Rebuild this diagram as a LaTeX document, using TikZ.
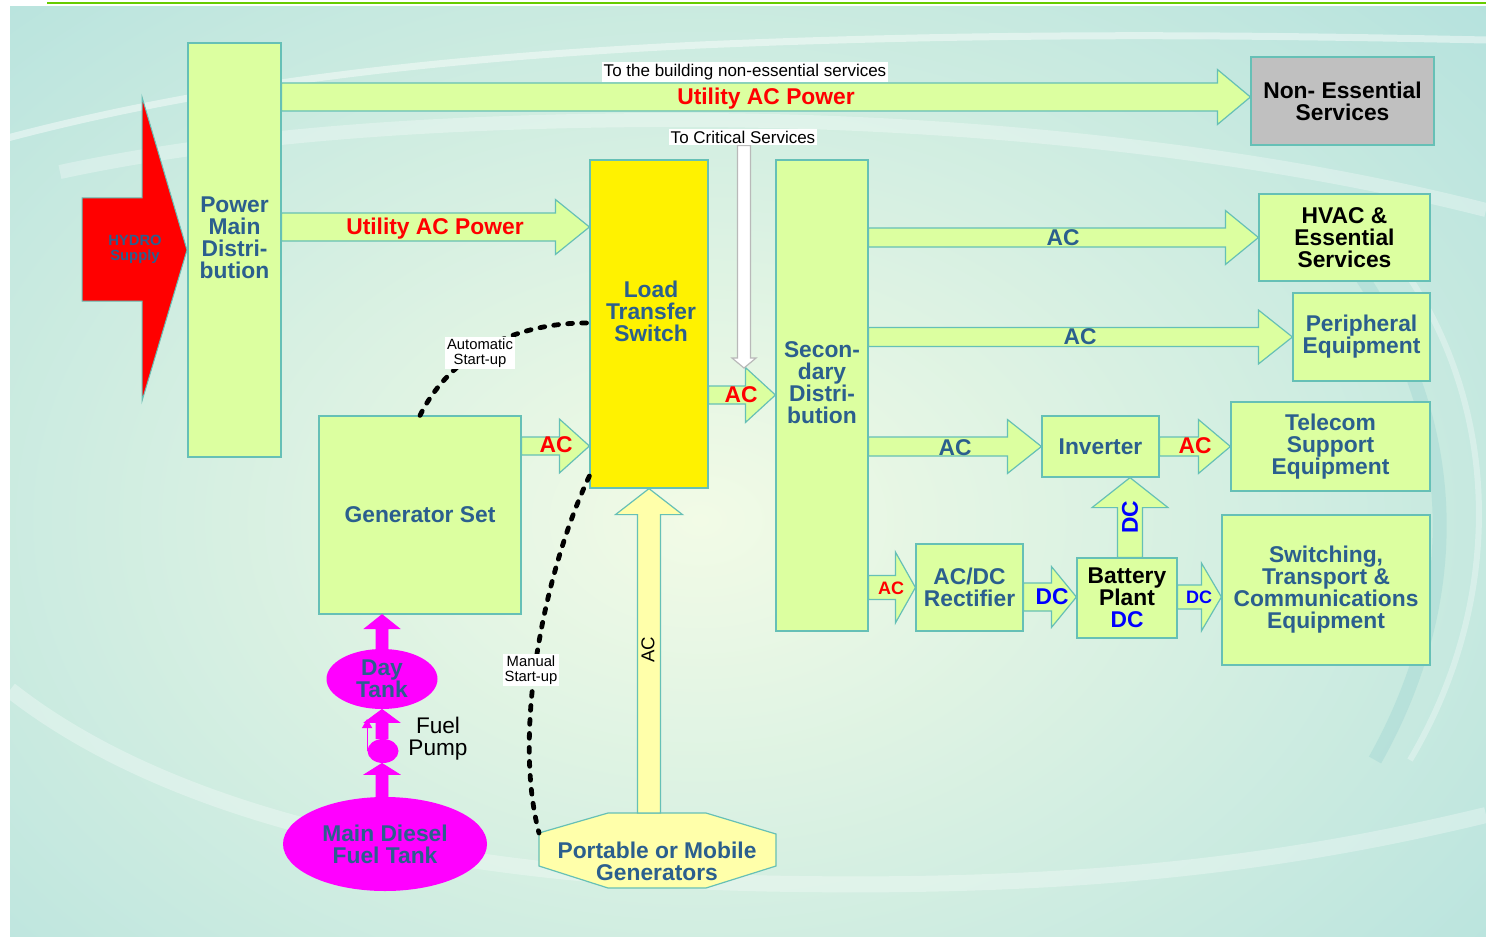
\documentclass[tikz,border=0pt]{standalone}
\usepackage{fontspec}
\setmainfont{Liberation Sans}
\usetikzlibrary{calc,shapes.geometric,arrows.meta}
\definecolor{bgteal}{RGB}{179,225,221}
\definecolor{bglight}{RGB}{242,251,230}
\definecolor{boxfill}{RGB}{220,255,160}
\definecolor{boxline}{RGB}{102,192,182}
\definecolor{txtblue}{RGB}{43,95,142}
\definecolor{myred}{RGB}{255,0,0}
\definecolor{myblue}{RGB}{0,0,255}
\definecolor{mymag}{RGB}{255,0,255}
\definecolor{portfill}{RGB}{255,255,170}
\definecolor{nesgray}{RGB}{192,192,192}
\definecolor{topgreen}{RGB}{102,204,0}
\newcommand{\fmain}{\fontsize{11.4}{11}\selectfont\bfseries}
\newcommand{\fsmall}{\fontsize{9}{9}\selectfont\bfseries}
\newcommand{\flab}{\fontsize{8.5}{9}\selectfont}
\newcommand{\fstart}{\fontsize{7.4}{7.5}\selectfont}
\tikzset{
  blockarrow/.style={fill=boxfill, draw=boxline, line width=0.6pt, line join=miter},
  box/.style={draw=boxline, fill=boxfill, line width=0.6pt, inner sep=0pt, align=center, text=txtblue, font=\fmain},
  txt/.style={inner sep=0pt, align=center, text=txtblue, font=\fmain},
  redlab/.style={inner sep=0pt, text=myred, font=\fmain},
  lab/.style={fill=white, inner sep=1pt, align=center, text=black, font=\flab},
  startlab/.style={fill=white, inner sep=1pt, align=center, text=black, font=\fstart},
  dotline/.style={black, line width=2.4pt, dash pattern=on 2.4pt off 4.6pt, line cap=round},
  tank/.style={ellipse, fill=mymag, inner sep=0pt, align=center, text=txtblue, font=\fmain},
  magarrow/.style={fill=mymag, draw=mymag, line width=0.4pt}
}
\newcommand{\barrow}[6][]{%
  \coordinate (bas) at #2;
  \coordinate (bae) at #3;
  \coordinate (bah) at ($(bae)!#6!(bas)$);
  \draw[blockarrow,#1] ($(bas)!#4!90:(bae)$) -- ($(bah)!#4!90:(bae)$) -- ($(bah)!#5!90:(bae)$) -- (bae)
     -- ($(bah)!#5!-90:(bae)$) -- ($(bah)!#4!-90:(bae)$) -- ($(bas)!#4!-90:(bae)$) -- cycle;
}
\begin{document}
\begin{tikzpicture}[x=0.5pt,y=-0.5pt]
\useasboundingbox (0,0) rectangle (1486,936);
\fill[white] (0,0) rectangle (1486,936);
% background
\begin{scope}
  \clip (10,6.5) rectangle (1486,936);
  \fill[bgteal] (10,6.5) rectangle (1486,936);
  \shade[inner color=bglight, outer color=bgteal] (700,520) ellipse [x radius=560pt, y radius=400pt];
  \draw[white, opacity=0.45, line width=3.5pt] (0,140) .. controls (150,100) and (350,62) .. (700,45) .. controls (1000,32) and (1250,35) .. (1486,40);
  \draw[white, opacity=0.3, line width=7pt] (60,172) .. controls (200,142) and (380,122) .. (650,120) .. controls (950,118) and (1250,150) .. (1486,210);
  \draw[white, opacity=0.3, line width=3pt] (1390,250) .. controls (1505,400) and (1505,600) .. (1410,760);
  \draw[bgteal!85!teal, opacity=0.35, line width=7pt] (1350,260) .. controls (1465,420) and (1465,600) .. (1375,760);
  \draw[white, opacity=0.3, line width=8pt] (10,690) .. controls (150,800) and (400,880) .. (800,884) .. controls (1100,888) and (1300,860) .. (1486,815);
\end{scope}
\draw[topgreen, line width=1.1pt] (47,3.3) -- (1486,3.3);

% hydro supply
\draw[fill=myred, draw=boxline, line width=0.5pt] (82,198) -- (142,198) -- (142,97) -- (187,250) -- (142,401) -- (142,301) -- (82,301) -- cycle;
\node[inner sep=0pt, align=center, text=txtblue, font=\fontsize{7.4}{7.5}\selectfont\bfseries] (hydro) at (135,249) {HYDRO\\Supply};

% box nodes (placed first for anchors; redrawn on top of arrows)
\node[box, minimum width=46.5pt, minimum height=207pt] (pmd) at (234.5,250) {};
\node[box, fill=yellow, minimum width=59pt, minimum height=164pt] (lts) at (649,324) {};
\node[box, minimum width=46pt, minimum height=235.5pt] (sec) at (822,395.5) {};
\node[box, minimum width=101pt, minimum height=99pt] (gen) at (420,515) {Generator Set};
\node[box, fill=nesgray, text=black, minimum width=91.5pt, minimum height=44pt] (nes) at (1342.5,101) {Non- Essential\\Services};
\node[box, text=black, minimum width=85.5pt, minimum height=43.5pt] (hvac) at (1344.5,237.5) {HVAC \&\\Essential\\Services};
\node[box, minimum width=68.5pt, minimum height=44pt] (peri) at (1361.5,337) {Peripheral\\Equipment};
\node[box, minimum width=58.5pt, minimum height=30.5pt] (inv) at (1100.5,446.5) {Inverter};
\node[box, minimum width=99.5pt, minimum height=44.5pt] (tel) at (1330.5,446.5) {Telecom\\Support\\Equipment};
\node[box, minimum width=104pt, minimum height=75pt] (sw) at (1326,590) {Switching,\\Transport \&\\Communications\\Equipment};
\node[box, minimum width=53.5pt, minimum height=43.5pt] (rect) at (969.5,587.5) {AC/DC\\Rectifier};
\node[box, text=black, minimum width=50pt, minimum height=40pt] (bat) at (1127,598) {Battery\\Plant\\\textcolor{myblue}{DC}};

% text labels on white
\node[lab] (tobuild) at (745,72) {To the building non-essential services};
\node[lab] (tocrit) at (743,137) {To Critical Services};

% portable generators
\coordinate (portnw) at (539,833);
\coordinate (porttop) at (649,813);
\coordinate (critend) at (744,368);
\draw[fill=portfill, draw=boxline, line width=0.6pt] (portnw) -- (608,813) -- (706,813) -- (776,834) -- (776,866) -- (706,888) -- (608,888) -- (539,866) -- cycle;
\node[txt] (port) at (657,861) {Portable or Mobile\\Generators};

% block arrows
\barrow{(pmd.east |- 0,97)}{(nes.west |- 0,97)}{7pt}{13.75pt}{16.5pt}
\barrow{(pmd.east |- 0,227)}{(lts.west |- 0,227)}{7pt}{13.75pt}{17pt}
\barrow{(gen.east |- 0,446)}{(lts.west |- 0,446)}{4.5pt}{13.5pt}{15pt}
\barrow{(lts.east |- 0,395)}{(sec.west |- 0,395)}{4.5pt}{13.75pt}{15pt}
\barrow{(sec.east |- hvac.west)}{(hvac.west)}{4.75pt}{13.5pt}{16.5pt}
\barrow{(sec.east |- peri.west)}{(peri.west)}{4.75pt}{13.5pt}{17pt}
\barrow{(sec.east |- inv.west)}{(inv.west)}{4.75pt}{13.5pt}{17pt}
\barrow{(inv.east)}{(tel.west)}{4.75pt}{13.5pt}{16pt}
\barrow{(1130,0 |- bat.north)}{(1130,0 |- inv.south)}{6.25pt}{19pt}{15pt}
\barrow{(sec.east |- rect.west)}{(rect.west)}{6pt}{17.75pt}{10pt}
\barrow{(rect.east |- 0,597)}{(bat.west |- 0,597)}{7pt}{15.25pt}{12.5pt}
\barrow{(bat.east |- 0,597)}{(sw.west |- 0,597)}{6pt}{17pt}{10pt}
\barrow[fill=portfill]{(porttop)}{(649,0 |- lts.south)}{5.75pt}{16.75pt}{13pt}
\barrow[fill=white, draw=gray!55]{(744,0 |- tocrit.south)}{(critend)}{3.25pt}{6pt}{5pt}

% redraw boxes on top
\node[box, minimum width=46.5pt, minimum height=207pt] at (pmd) {};
\node[box, fill=yellow, minimum width=59pt, minimum height=164pt] at (lts) {};
\node[box, minimum width=46pt, minimum height=235.5pt] at (sec) {};
\node[txt] (pmdtxt) at (234.5,238) {Power\\Main\\Distri-\\bution};
\node[txt] (ltstxt) at (651,311) {Load\\Transfer\\Switch};
\node[txt] (sectxt) at (822,383) {Secon-\\dary\\Distri-\\bution};

% fuel system
\node[tank, minimum width=102pt, minimum height=47pt] (maintank) at (385,844) {Main Diesel\\Fuel Tank};
\node[tank, minimum width=55.5pt, minimum height=30pt] (daytank) at (382,679) {Day\\Tank};
\node[tank, minimum width=15.5pt, minimum height=12pt] (pump) at (383,751) {};
\barrow[magarrow]{(382,0 |- maintank.north)}{(382,0 |- pump.south)}{3pt}{8.75pt}{5.5pt}
\barrow[magarrow]{(382,0 |- pump.north)}{(382,0 |- daytank.south)}{3pt}{8.75pt}{6.5pt}
\barrow[magarrow]{(382,0 |- daytank.north)}{(382,0 |- gen.south)}{3pt}{8.75pt}{7pt}
\draw[mymag, line width=0.6pt, -{Triangle[width=5pt,length=4.5pt]}] (pump.west) -- (pump.west |- 0,719);
\node[inner sep=0pt, align=center, font=\fontsize{11.3}{11}\selectfont] (pumplab) at (438,739) {Fuel\\Pump};

% arrow labels
\node[redlab] (l1) at (766,99) {Utility AC Power};
\node[redlab] (l2) at (435,229) {Utility AC Power};
\node[redlab] (l3) at (556,445) {AC};
\node[redlab] (l4) at (741,395) {AC};
\node[txt] (l5) at (1063,238) {AC};
\node[txt] (l6) at (1080,337) {AC};
\node[txt] (l7) at (955,448) {AC};
\node[redlab] (l8) at (1195,446) {AC};
\node[txt, text=myblue, rotate=90] (l9) at (1130,517) {DC};
\node[redlab, font=\fsmall] (l10) at (891,588) {AC};
\node[txt, text=myblue] (l11) at (1052,597) {DC};
\node[txt, text=myblue, font=\fsmall] (l12) at (1199,597) {DC};
\node[inner sep=0pt, rotate=90, font=\fontsize{9.3}{10}\selectfont] (l13) at (648,650) {AC};

% start-up control lines
\draw[dotline] (gen.north) .. controls (455,345) and (530,322) .. (lts.west |- 0,323);
\draw[dotline] (lts.west |- 0,476) .. controls (545,570) and (512,730) .. (portnw);
\node[startlab] (autolab) at (480,353) {Automatic\\Start-up};
\node[startlab] (manlab) at (531,670) {Manual\\Start-up};
\end{tikzpicture}
\end{document}
